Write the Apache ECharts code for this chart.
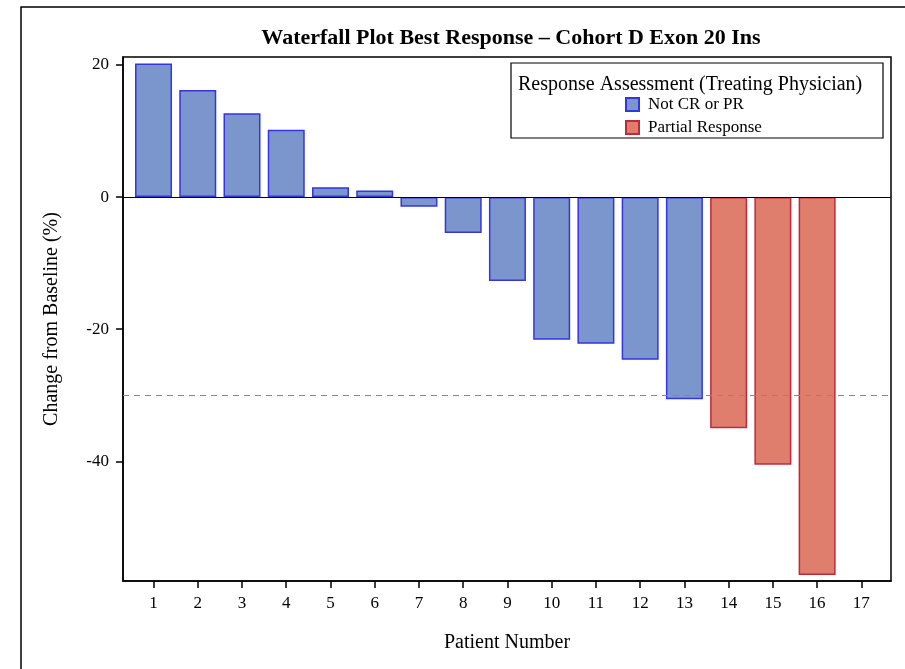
<!DOCTYPE html>
<html>
<head>
<meta charset="utf-8">
<script src="https://cdn.jsdelivr.net/npm/echarts@6/dist/echarts.min.js"></script>
<style>html,body{margin:0;padding:0;background:#fff}#c{width:905px;height:669px}</style>
</head>
<body>
<div id="c"></div>
<script>
const patients = [1,2,3,4,5,6,7,8,9,10,11,12,13,14,15,16];
const changes = [20.2,16.2,12.7,10.2,1.5,1.0,-1.45,-5.45,-12.7,-21.6,-22.2,-24.6,-30.6,-35.0,-40.5,-57.2];
const responses = ['Not CR or PR','Not CR or PR','Not CR or PR','Not CR or PR','Not CR or PR','Not CR or PR','Not CR or PR','Not CR or PR','Not CR or PR','Not CR or PR','Not CR or PR','Not CR or PR','Not CR or PR','Partial Response','Partial Response','Partial Response'];
const xTicks = [1,2,3,4,5,6,7,8,9,10,11,12,13,14,15,16,17];
const yTicks = [-40,-20,0,20];
const categories = ['Not CR or PR','Partial Response'];
const refLines = [0,-30];

const font = 'Liberation Serif';
const styles = {
  'Not CR or PR': {color:'#7B96CC', borderColor:'#3535E0'},
  'Partial Response': {color:'#E07E6E', borderColor:'#C0283C'}
};

const series = categories.map(function(cat, ci){
  const data = [];
  patients.forEach(function(p,i){ if(responses[i]===cat) data.push([p, changes[i]]); });
  const s = {
    name: cat, type:'bar', data: data, barWidth: 37, barGap:'-100%',
    itemStyle: {color: styles[cat].color, borderColor: styles[cat].borderColor, borderWidth: 1.5},
    emphasis:{disabled:true}, animation:false
  };
  if (ci === 0) {
    s.markLine = {
      symbol:'none', silent:true, animation:false, label:{show:false},
      data: [
        {yAxis: refLines[0], lineStyle:{color:'#000', type:'solid', width:1.2}},
        {yAxis: refLines[1], lineStyle:{color:'#888', type:[6,5], width:1.2}}
      ]
    };
  }
  return s;
});

const chart = echarts.init(document.getElementById('c'), null, {renderer:'canvas'});
chart.setOption({
  animation:false,
  backgroundColor:'#fff',
  textStyle:{fontFamily:font},
  title:[
    {text:'Waterfall Plot Best Response \u2013 Cohort D Exon 20 Ins', left:506, top:22, textAlign:'center',
     textStyle:{fontFamily:font, fontWeight:'bold', fontSize:22, color:'#000'}},
    {text:'Response Assessment (Treating Physician)', left:513, top:70,
     textStyle:{fontFamily:font, fontWeight:'normal', fontSize:20, color:'#000'}}
  ],
  legend:{
    data:categories, orient:'vertical', left:620, top:91, itemWidth:13, itemHeight:13, itemGap:6,
    icon:'rect', selectedMode:false,
    textStyle:{fontFamily:font, fontSize:17, color:'#000', padding:[0,0,0,4]}
  },
  grid:{left:123, top:57, right:14, bottom:88, show:true, borderColor:'#000', borderWidth:1.5, backgroundColor:'transparent'},
  xAxis:{
    type:'value', min:0.31, max:17.67,
    name:'Patient Number', nameLocation:'middle', nameGap:52,
    nameTextStyle:{fontFamily:font, fontSize:20, color:'#000'},
    axisLine:{show:true, onZero:false, lineStyle:{color:'#000', width:1.5}},
    axisTick:{show:true, customValues:xTicks, length:7, lineStyle:{color:'#000', width:1.5}},
    axisLabel:{customValues:xTicks, fontFamily:font, fontSize:17, color:'#000', margin:14},
    splitLine:{show:false}
  },
  yAxis:{
    type:'value', min:-58.1, max:21.2,
    name:'Change from Baseline (%)', nameLocation:'middle', nameGap:61, nameRotate:90,
    nameTextStyle:{fontFamily:font, fontSize:20, color:'#000'},
    axisLine:{show:true, onZero:false, lineStyle:{color:'#000', width:1.5}},
    axisTick:{show:true, customValues:yTicks, length:7, lineStyle:{color:'#000', width:1.5}},
    axisLabel:{customValues:yTicks, fontFamily:font, fontSize:17, color:'#000', margin:14},
    splitLine:{show:false}
  },
  graphic:[
    {type:'rect', shape:{x:511, y:63, width:372, height:75}, style:{fill:'none', stroke:'#000', lineWidth:1.2}, silent:true},
    {type:'polyline', shape:{points:[[21,669],[21,7],[905,7]]}, style:{fill:'none', stroke:'#000', lineWidth:1.5}, silent:true}
  ],
  series: series
});
</script>
</body>
</html>
